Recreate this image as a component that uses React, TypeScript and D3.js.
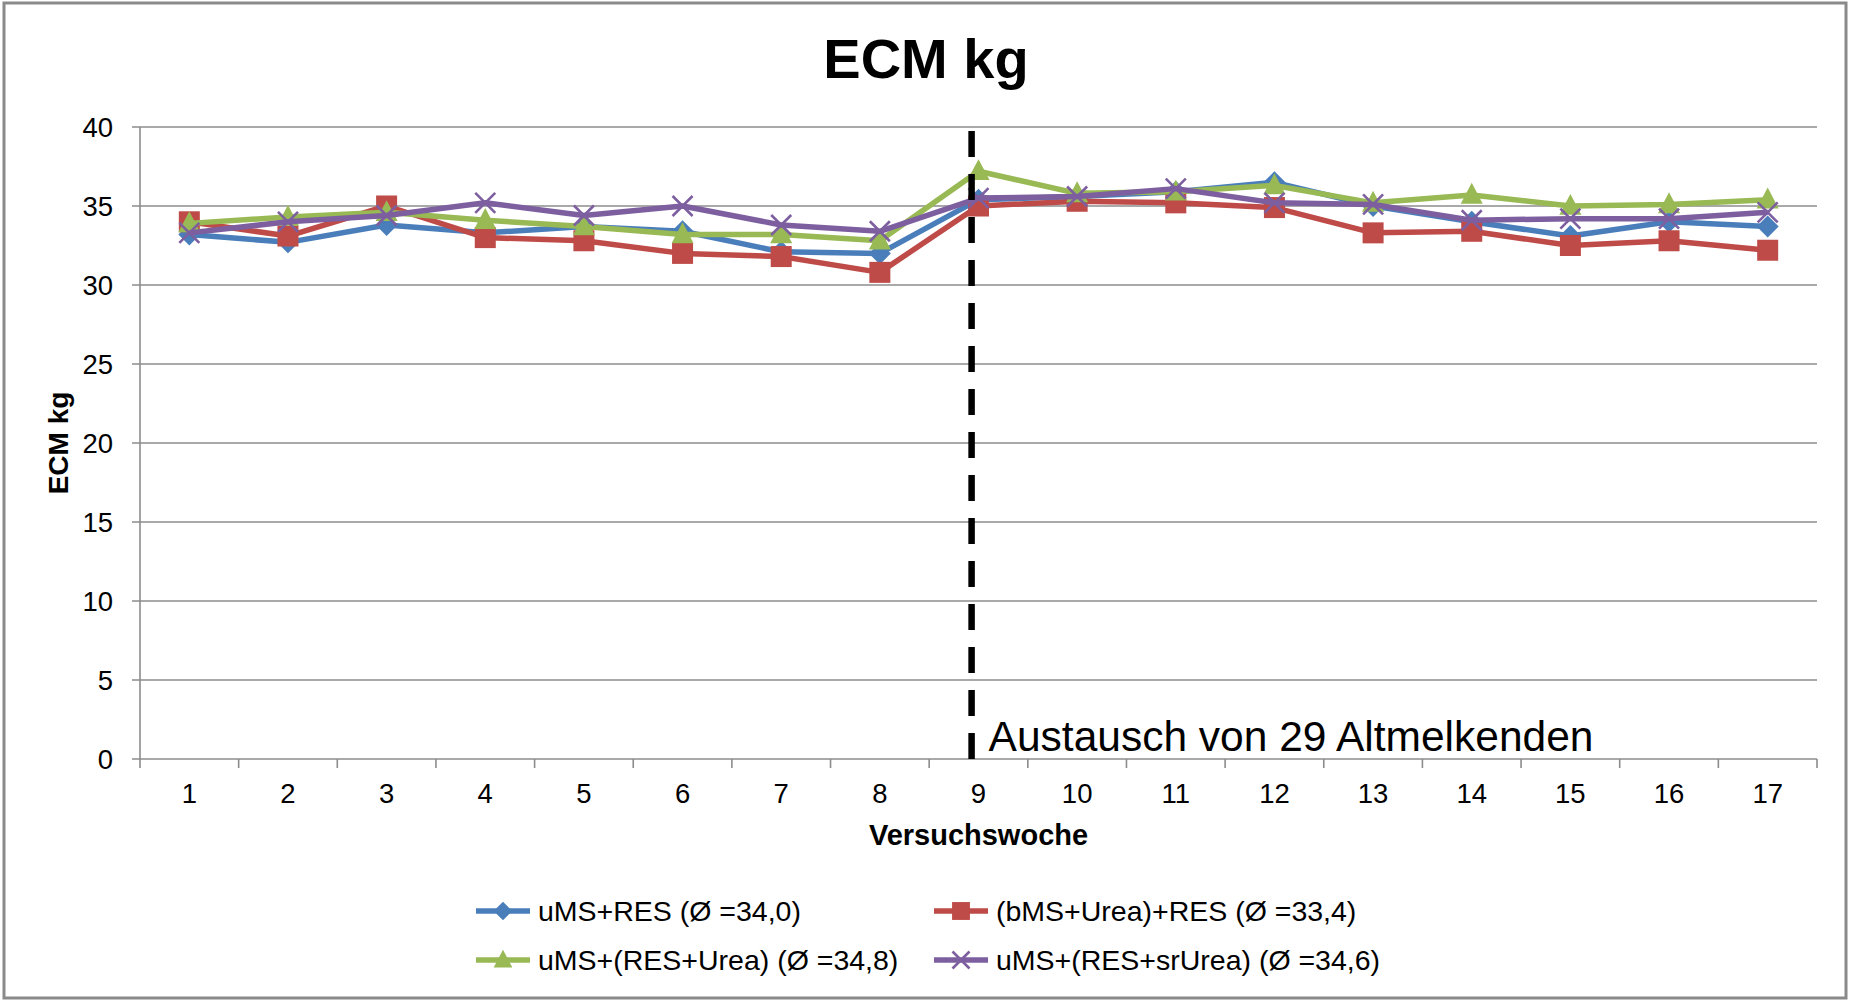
import React from 'react';
import * as d3 from 'd3';

const weeks = [1, 2, 3, 4, 5, 6, 7, 8, 9, 10, 11, 12, 13, 14, 15, 16, 17];
const yTicks = [0, 5, 10, 15, 20, 25, 30, 35, 40];

const blueValues = [33.2, 32.7, 33.8, 33.3, 33.7, 33.4, 32.1, 32.0, 35.4, 35.6, 35.9, 36.5, 35.0, 34.0, 33.1, 34.0, 33.7];
const redValues = [34.0, 33.1, 35.0, 33.0, 32.8, 32.0, 31.8, 30.8, 35.0, 35.3, 35.2, 34.9, 33.3, 33.4, 32.5, 32.8, 32.2];
const greenValues = [33.9, 34.3, 34.6, 34.1, 33.7, 33.2, 33.2, 32.8, 37.2, 35.8, 35.9, 36.3, 35.2, 35.7, 35.0, 35.1, 35.4];
const purpleValues = [33.3, 34.0, 34.4, 35.2, 34.4, 35.0, 33.8, 33.4, 35.5, 35.6, 36.1, 35.2, 35.1, 34.1, 34.2, 34.2, 34.6];

const seriesNames = [
  'uMS+RES (Ø =34,0)',
  '(bMS+Urea)+RES (Ø =33,4)',
  'uMS+(RES+Urea) (Ø =34,8)',
  'uMS+(RES+srUrea) (Ø =34,6)',
];

// week position of the dashed marker (just before week 9)
const exchangeWeek = 8.93;
const exchangeLabel = 'Austausch von 29 Altmelkenden';

const W = 1849;
const H = 1001;
const FONT = 'Arial, "Liberation Sans", sans-serif';

type Shape = 'diamond' | 'square' | 'triangle' | 'x';

const series = [
  { name: seriesNames[0], values: blueValues, color: '#4A7EBB', shape: 'diamond' as Shape },
  { name: seriesNames[1], values: redValues, color: '#BE4B48', shape: 'square' as Shape },
  { name: seriesNames[2], values: greenValues, color: '#98B954', shape: 'triangle' as Shape },
  { name: seriesNames[3], values: purpleValues, color: '#7D5FA0', shape: 'x' as Shape },
];

function Marker({ shape, x, y, color, s = 1 }: { shape: Shape; x: number; y: number; color: string; s?: number }) {
  if (shape === 'diamond') {
    const r = 11 * s;
    return <path d={`M${x},${y - r}L${x + r},${y}L${x},${y + r}L${x - r},${y}Z`} fill={color} />;
  }
  if (shape === 'square') {
    const r = 10.5 * s;
    return <rect x={x - r} y={y - r} width={2 * r} height={2 * r} fill={color} />;
  }
  if (shape === 'triangle') {
    const r = 11 * s;
    return <path d={`M${x},${y - r * 1.1}L${x + r},${y + r * 0.8}L${x - r},${y + r * 0.8}Z`} fill={color} />;
  }
  const r = 10 * s;
  return (
    <path
      d={`M${x - r},${y - r}L${x + r},${y + r}M${x - r},${y + r}L${x + r},${y - r}`}
      stroke={color}
      strokeWidth={2.6}
      fill="none"
    />
  );
}

export default function App() {
  const margin = { top: 127, right: 32, bottom: 242, left: 140 };
  const x = d3.scaleLinear().domain([0.5, weeks.length + 0.5]).range([margin.left, W - margin.right]);
  const y = d3.scaleLinear().domain([0, 40]).range([H - margin.bottom, margin.top]);

  const line = d3
    .line<number>()
    .x((_, i) => x(weeks[i]))
    .y((d) => y(d));

  const boundaries = d3.range(0, weeks.length + 1).map((i) => i + 0.5);
  const legendCols = [476, 934];
  const legendRows = [911, 960];

  return (
    <svg
      width={W}
      height={H}
      style={{ position: 'absolute', left: 0, top: 0, background: '#fff' }}
      fontFamily={FONT}
    >
      <rect x={4} y={3} width={W - 7} height={H - 6} fill="#fff" stroke="#8a8a8a" strokeWidth={3} />

      <text x={926} y={78} textAnchor="middle" fontSize={56} fontWeight="bold" fill="#000">
        ECM kg
      </text>

      {/* gridlines + y ticks */}
      {yTicks.map((t) => (
        <g key={t}>
          <line x1={margin.left - 8} x2={W - margin.right} y1={y(t)} y2={y(t)} stroke="#8c8c8c" strokeWidth={1.6} />
          <text x={113} y={y(t)} dy="0.36em" textAnchor="end" fontSize={27.5} fill="#000">
            {t}
          </text>
        </g>
      ))}
      <line x1={margin.left} x2={margin.left} y1={y(40)} y2={y(0)} stroke="#8c8c8c" strokeWidth={1.6} />

      {/* x ticks */}
      {boundaries.map((b) => (
        <line key={b} x1={x(b)} x2={x(b)} y1={y(0)} y2={y(0) + 9} stroke="#8c8c8c" strokeWidth={1.6} />
      ))}
      {weeks.map((w) => (
        <text key={w} x={x(w)} y={803} textAnchor="middle" fontSize={27.5} fill="#000">
          {w}
        </text>
      ))}

      <text x={(x(0.5) + x(17.5)) / 2} y={845} textAnchor="middle" fontSize={29} fontWeight="bold" fill="#000">
        Versuchswoche
      </text>
      <text
        transform={`translate(68,${(y(0) + y(40)) / 2}) rotate(-90)`}
        textAnchor="middle"
        fontSize={28}
        fontWeight="bold"
        fill="#000"
      >
        ECM kg
      </text>

      {/* series */}
      {series.map((s) => (
        <g key={s.name}>
          <path d={line(s.values) || ''} fill="none" stroke={s.color} strokeWidth={5.5} strokeLinejoin="round" />
          {s.values.map((v, i) => (
            <Marker key={i} shape={s.shape} x={x(weeks[i])} y={y(v)} color={s.color} />
          ))}
        </g>
      ))}

      {/* exchange marker, drawn upward so a dash sits on the axis */}
      <line
        x1={x(exchangeWeek)}
        x2={x(exchangeWeek)}
        y1={y(0)}
        y2={y(40) + 4}
        stroke="#000"
        strokeWidth={6.5}
        strokeDasharray="26 17"
      />
      <text x={x(exchangeWeek) + 17} y={751} fontSize={42.5} fill="#000">
        {exchangeLabel}
      </text>

      {/* legend */}
      {series.map((s, i) => {
        const lx = legendCols[i % 2];
        const ly = legendRows[Math.floor(i / 2)];
        return (
          <g key={s.name}>
            <line x1={lx} x2={lx + 54} y1={ly} y2={ly} stroke={s.color} strokeWidth={5.5} />
            <Marker shape={s.shape} x={lx + 27} y={ly} color={s.color} s={0.85} />
            <text x={lx + 62} y={ly} dy="0.36em" fontSize={28.5} fill="#000">
              {s.name}
            </text>
          </g>
        );
      })}
    </svg>
  );
}
